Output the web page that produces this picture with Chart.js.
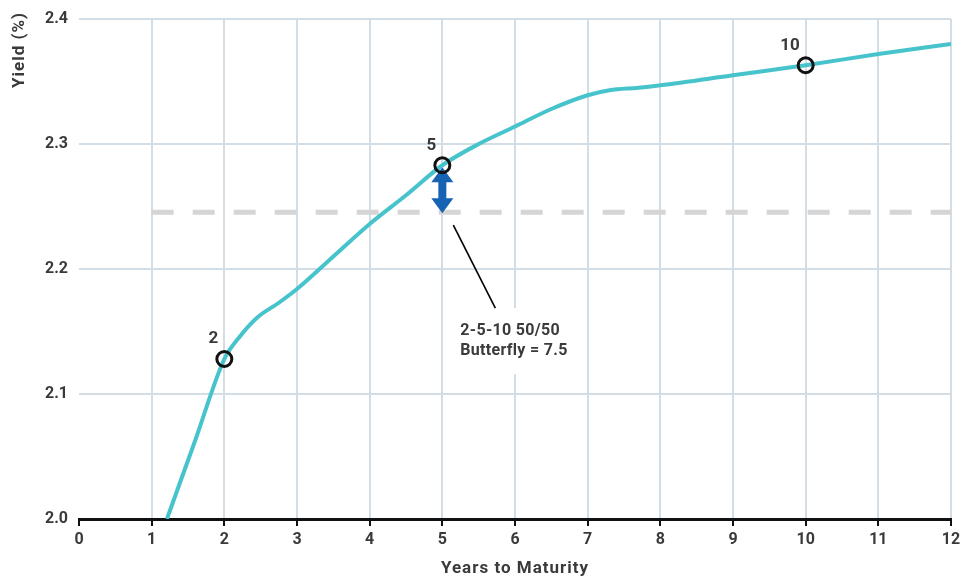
<!DOCTYPE html>
<html>
<head>
<meta charset="utf-8">
<title>Yield Curve – 2-5-10 Butterfly</title>
<script src="https://cdn.jsdelivr.net/npm/chart.js@4/dist/chart.umd.min.js"></script>
<style>
  html, body { margin: 0; padding: 0; background: #ffffff; }
  #wrap { width: 962px; height: 578px; position: relative; }
</style>
</head>
<body>
<div id="wrap"><canvas id="chart" width="962" height="578"></canvas></div>
<script>
// Yield curve (years to maturity → yield, %)
const maturities = [1.21, 1.6, 2, 2.2, 2.45, 2.75, 3, 3.5, 4, 4.5, 5, 5.5, 6, 6.5, 7, 7.3, 7.7, 8, 9, 10, 11, 12];
const yields     = [2.000, 2.063, 2.128, 2.145, 2.161, 2.173, 2.184, 2.210, 2.236, 2.259, 2.283, 2.300, 2.314, 2.328, 2.339, 2.343, 2.345, 2.347, 2.355, 2.363, 2.372, 2.380];

// Butterfly legs
const keyTenors = [2, 5, 10];
const keyYields = [2.128, 2.283, 2.363];
const keyLabels = ['2', '5', '10'];

// Axis ticks
const xTickValues = [0, 1, 2, 3, 4, 5, 6, 7, 8, 9, 10, 11, 12];
const yTickValues = [2.0, 2.1, 2.2, 2.3, 2.4];

// Axis titles
const xTitle = 'Years to Maturity';
const yTitle = 'Yield (%)';

// Wings average and 50/50 butterfly spread (bp)
const wingsAverage = (keyYields[0] + keyYields[2]) / 2;
const butterflyBp = (2 * keyYields[1] - keyYields[0] - keyYields[2]) * 100;
const noteLines = ['2-5-10 50/50', 'Butterfly = ' + butterflyBp.toFixed(1)];

const FONT = 'Roboto, "DejaVu Sans", sans-serif';
const TEXT = '#3a3a3a';
const GRID = '#d2dde5';
const CURVE = '#47c3cc';
const ARROW = '#1763b3';

// Double-headed arrow between the belly and the wings average, drawn just after the dashed line
const arrowPlugin = {
  id: 'butterflyArrow',
  afterDatasetDraw(chart, args) {
    if (args.index !== 2) return;
    const { ctx, scales: { x, y } } = chart;
    const cx = x.getPixelForValue(keyTenors[1]);
    const top = y.getPixelForValue(keyYields[1]) + 2;
    const bot = y.getPixelForValue(wingsAverage) + 1;
    const headH = 15, headW = 11, shaftW = 4;
    ctx.save();
    ctx.fillStyle = ARROW;
    ctx.beginPath();
    ctx.moveTo(cx, top);
    ctx.lineTo(cx + headW, top + headH);
    ctx.lineTo(cx + shaftW, top + headH);
    ctx.lineTo(cx + shaftW, bot - headH);
    ctx.lineTo(cx + headW, bot - headH);
    ctx.lineTo(cx, bot);
    ctx.lineTo(cx - headW, bot - headH);
    ctx.lineTo(cx - shaftW, bot - headH);
    ctx.lineTo(cx - shaftW, top + headH);
    ctx.lineTo(cx - headW, top + headH);
    ctx.closePath();
    ctx.fill();
    ctx.restore();
  }
};

// Tenor labels, callout note and axis titles
const notesPlugin = {
  id: 'notes',
  afterDatasetsDraw(chart) {
    const { ctx, chartArea, scales: { x, y } } = chart;
    ctx.save();
    // tenor labels above the key points
    ctx.font = 'bold 17px ' + FONT;
    ctx.fillStyle = TEXT;
    ctx.textAlign = 'right';
    ctx.textBaseline = 'middle';
    keyTenors.forEach((t, i) => {
      const px = x.getPixelForValue(t);
      const py = y.getPixelForValue(keyYields[i]);
      ctx.fillText(keyLabels[i], px - 6, py - 20);
    });

    // callout
    const ax = x.getPixelForValue(keyTenors[1]);
    const ay = y.getPixelForValue(wingsAverage);
    ctx.fillStyle = '#ffffff';
    ctx.fillRect(ax + 12, ay + 96, 126, 66);
    ctx.strokeStyle = '#000000';
    ctx.lineWidth = 1.6;
    ctx.beginPath();
    ctx.moveTo(ax + 11, ay + 13);
    ctx.lineTo(ax + 53, ay + 96);
    ctx.stroke();
    ctx.fillStyle = TEXT;
    ctx.font = 'bold 16px ' + FONT;
    ctx.letterSpacing = '0.3px';
    ctx.textAlign = 'left';
    ctx.textBaseline = 'alphabetic';
    noteLines.forEach((s, i) => ctx.fillText(s, ax + 18, ay + 123 + i * 20));

    // x axis title
    ctx.font = 'bold 17px ' + FONT;
    ctx.letterSpacing = '1px';
    ctx.textAlign = 'center';
    ctx.textBaseline = 'middle';
    ctx.fillText(xTitle, (chartArea.left + chartArea.right) / 2, 569);

    // y axis title, top-aligned
    ctx.translate(20, 12);
    ctx.rotate(-Math.PI / 2);
    ctx.textAlign = 'right';
    ctx.fillText(yTitle, 0, 0);
    ctx.restore();
  }
};

new Chart(document.getElementById('chart'), {
  type: 'line',
  data: {
    datasets: [
      {
        label: 'Key tenors',
        data: keyTenors.map((t, i) => ({ x: t, y: keyYields[i] })),
        showLine: false,
        pointRadius: 7.5,
        pointHoverRadius: 7.5,
        pointBorderWidth: 3,
        pointBorderColor: '#111111',
        pointBackgroundColor: 'rgba(0,0,0,0)'
      },
      {
        label: 'Yield curve',
        data: maturities.map((m, i) => ({ x: m, y: yields[i] })),
        borderColor: CURVE,
        borderWidth: 4,
        pointRadius: 0,
        cubicInterpolationMode: 'monotone',
        fill: false
      },
      {
        label: 'Wings average',
        data: [{ x: 1, y: wingsAverage }, { x: 12, y: wingsAverage }],
        borderColor: '#d5d5d5',
        borderWidth: 5,
        borderDash: [22, 19],
        pointRadius: 0,
        fill: false
      }
    ]
  },
  options: {
    responsive: false,
    animation: false,
    events: [],
    layout: { padding: { top: 19, right: 11, left: 0, bottom: 0 } },
    plugins: {
      legend: { display: false },
      tooltip: { enabled: false }
    },
    scales: {
      x: {
        type: 'linear',
        min: 0,
        max: 12,
        afterFit(scale) {
          scale.height = 59;
          scale.paddingLeft = 0;
          scale.paddingRight = 0;
        },
        afterBuildTicks(scale) { scale.ticks = xTickValues.map(v => ({ value: v })); },
        border: { display: true, color: '#111111', width: 3 },
        grid: {
          color: ctx => (ctx.tick && ctx.tick.value === 0 ? 'rgba(0,0,0,0)' : GRID),
          lineWidth: 2,
          drawTicks: true,
          tickLength: 7,
          tickColor: '#111111',
          tickWidth: 2
        },
        ticks: {
          padding: 4,
          color: TEXT,
          font: { family: FONT, size: 16, weight: 'bold' },
          maxRotation: 0,
          callback: v => String(v)
        }
      },
      y: {
        type: 'linear',
        min: 2.0,
        max: 2.4,
        afterFit(scale) {
          scale.width = 79;
          scale.paddingTop = 0;
          scale.paddingBottom = 0;
        },
        afterBuildTicks(scale) { scale.ticks = yTickValues.map(v => ({ value: v })); },
        border: { display: false },
        grid: {
          color: GRID,
          lineWidth: 2,
          drawTicks: false
        },
        ticks: {
          padding: 11,
          color: TEXT,
          font: { family: FONT, size: 16, weight: 'bold' },
          callback: v => Number(v).toFixed(1)
        }
      }
    }
  },
  plugins: [arrowPlugin, notesPlugin]
});
</script>
</body>
</html>
